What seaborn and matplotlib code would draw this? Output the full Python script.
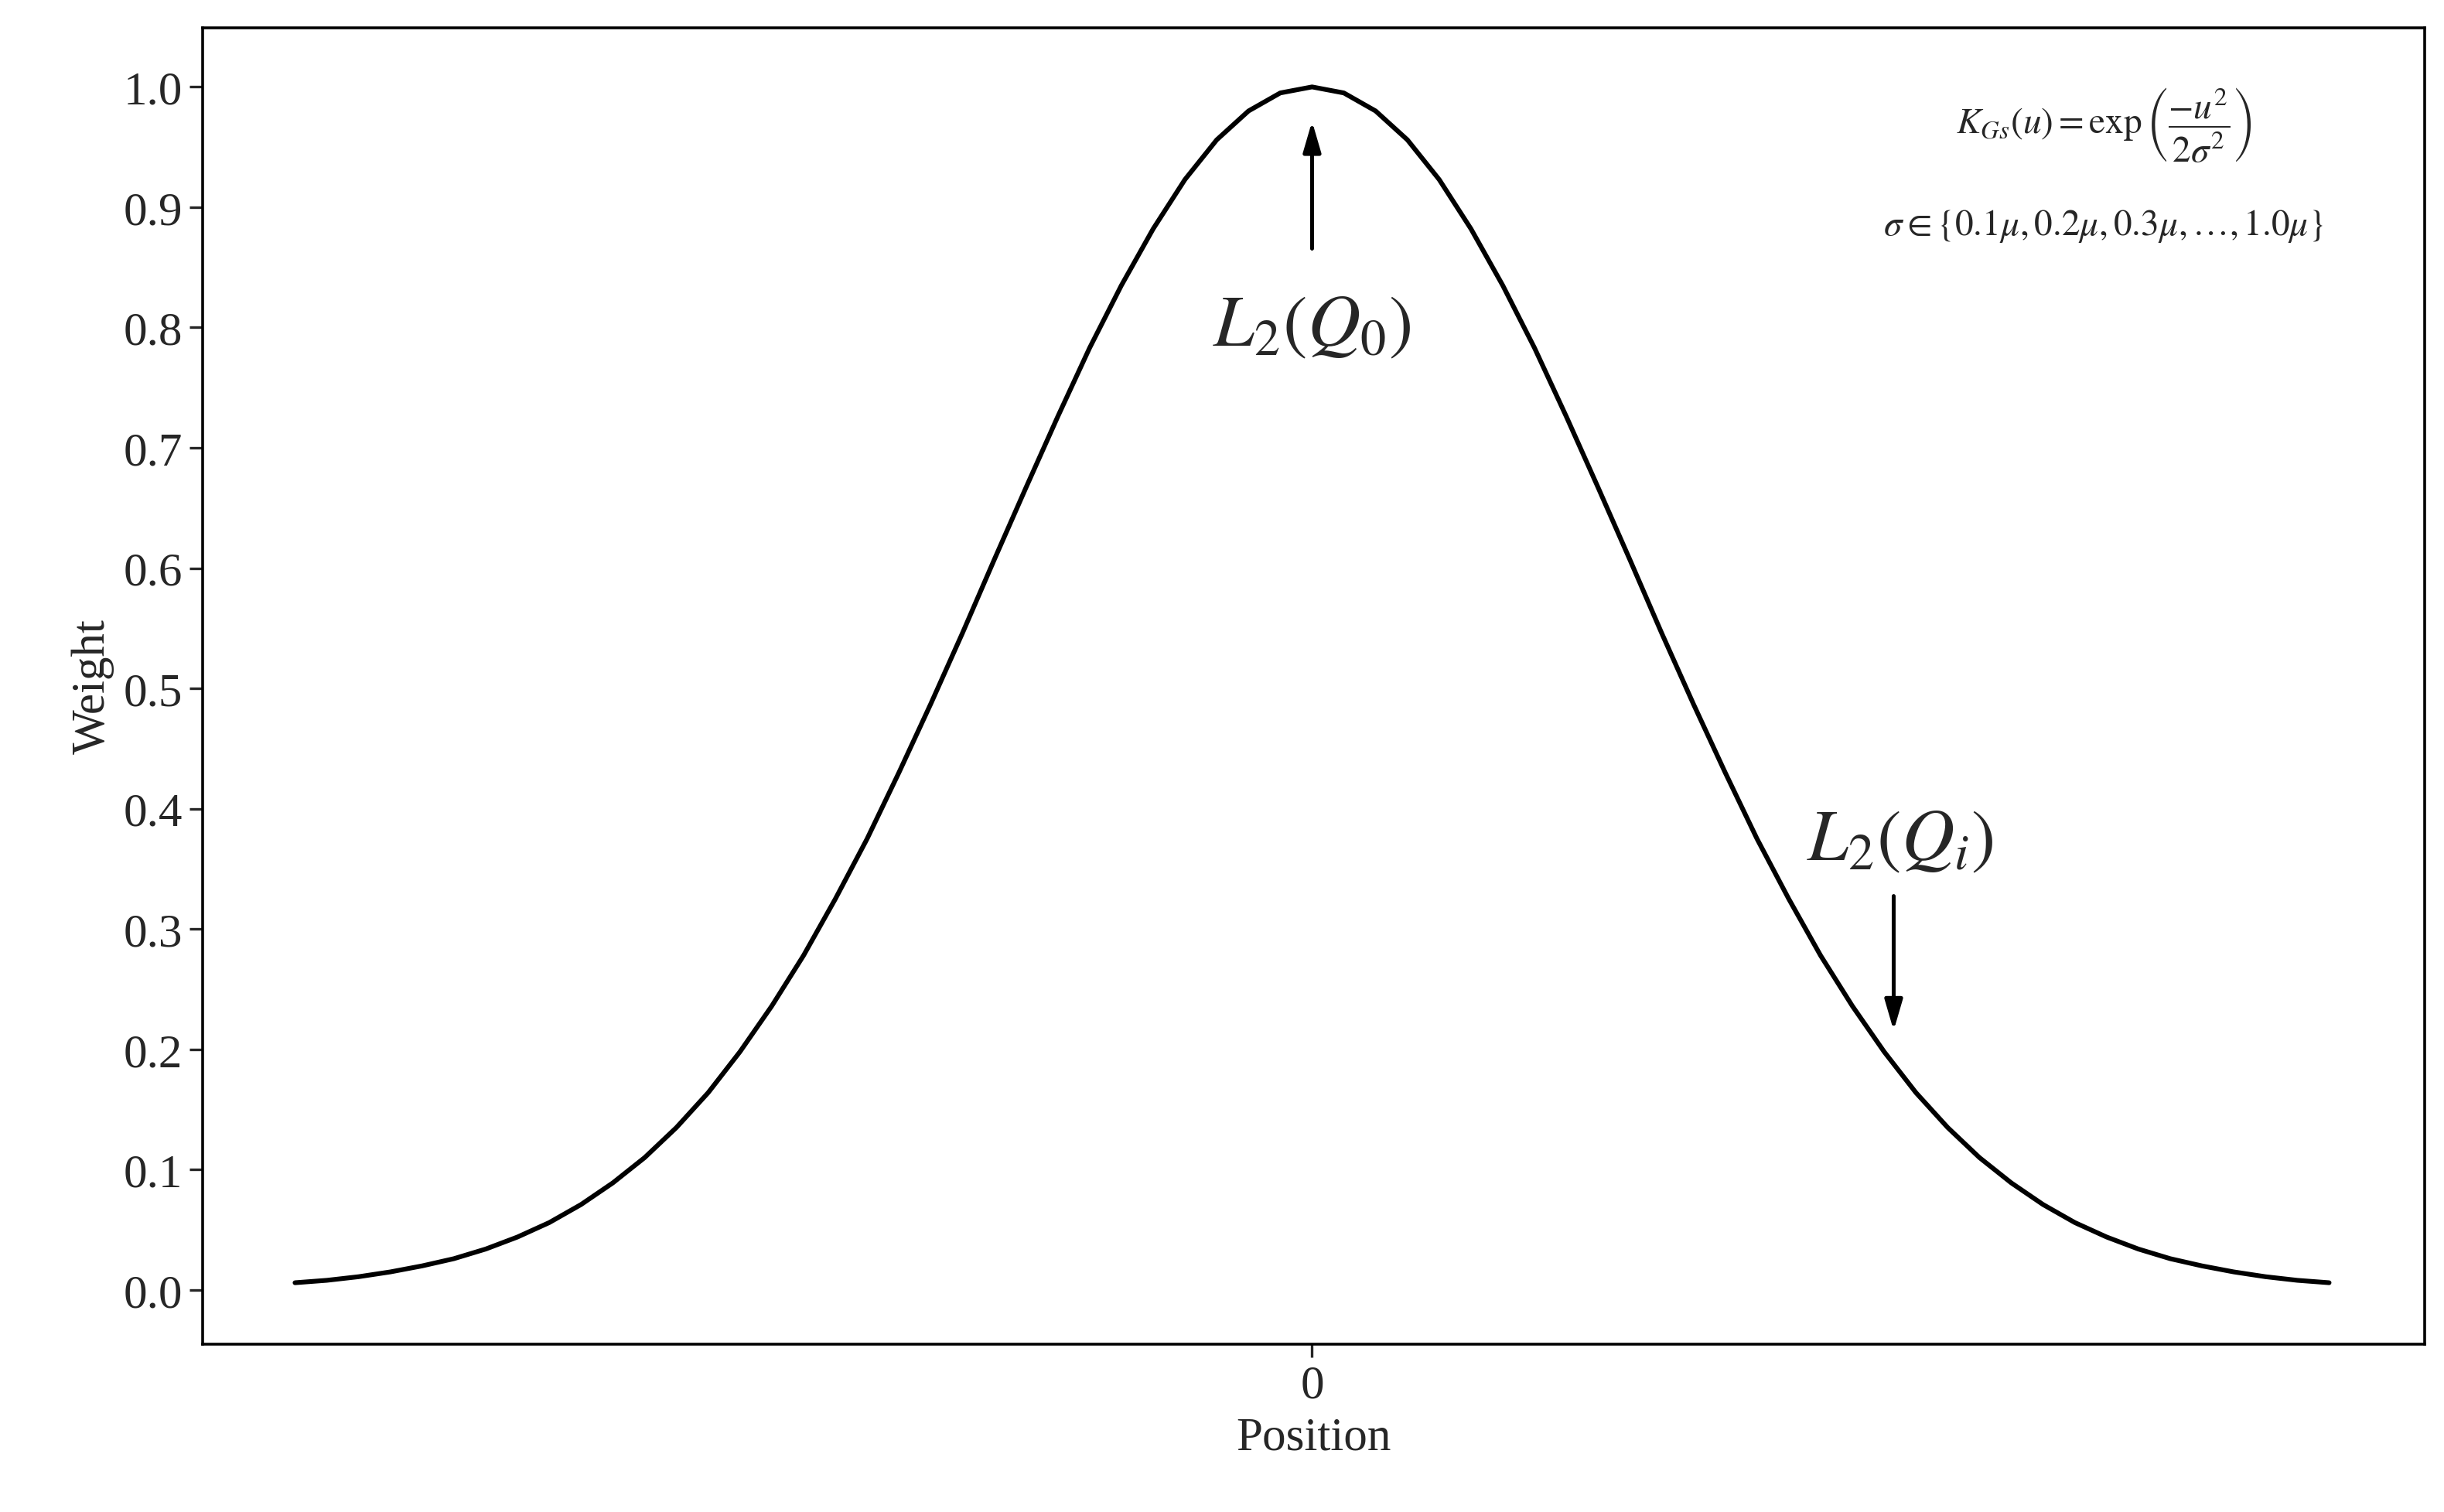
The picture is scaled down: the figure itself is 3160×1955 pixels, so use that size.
import numpy as np
import pandas as pd
import seaborn as sns
import matplotlib
matplotlib.use('Agg')
import matplotlib.pyplot as plt

# curve values (position in units of sigma, symmetric)
half_pos = [0.0, 0.1, 0.2, 0.3, 0.4, 0.5, 0.6, 0.7, 0.8, 0.9, 1.0, 1.1, 1.2, 1.3, 1.4, 1.5, 1.6,
            1.7, 1.8, 1.9, 2.0, 2.1, 2.2, 2.3, 2.4, 2.5, 2.6, 2.7, 2.8, 2.9, 3.0, 3.1, 3.2]
half_weight = [1.000, 0.995, 0.980, 0.956, 0.923, 0.882, 0.835, 0.783, 0.726, 0.667, 0.607,
               0.546, 0.487, 0.430, 0.375, 0.325, 0.278, 0.236, 0.198, 0.164, 0.135, 0.110,
               0.089, 0.071, 0.056, 0.044, 0.034, 0.026, 0.020, 0.015, 0.011, 0.008, 0.006]

position = [-p for p in half_pos[:0:-1]] + half_pos
weight = half_weight[:0:-1] + half_weight
df = pd.DataFrame({'Position': position, 'Weight': weight})

sns.set_style('ticks')
plt.rcParams['font.family'] = ['Liberation Serif', 'DejaVu Serif']
plt.rcParams['mathtext.fontset'] = 'stix'

fig = plt.figure(figsize=(15.8, 9.78), dpi=200)
ax = fig.add_axes([0.083, 0.111, 0.909, 0.870])
sns.lineplot(data=df, x='Position', y='Weight', color='black', linewidth=2.2, ax=ax)

ax.set_xlim(-3.49, 3.50)
ax.set_ylim(-0.045, 1.049)
ax.set_xticks([0])
ax.set_xticklabels(['0'])
ax.set_yticks(np.arange(0, 1.01, 0.1))
ax.set_yticklabels([f'{v:.1f}' for v in np.arange(0, 1.01, 0.1)])
ax.tick_params(labelsize=22, length=6, width=1.2)
ax.set_xlabel('Position', fontsize=22)
ax.set_ylabel('Weight', fontsize=22)
for s in ax.spines.values():
    s.set_visible(True)
    s.set_linewidth(1.3)
    s.set_color('black')

arrow = dict(arrowstyle='-|>,head_width=0.35,head_length=1.2', color='black', lw=1.8)
ax.annotate('', xy=(0, 0.975), xytext=(0, 0.862), arrowprops=arrow)
ax.text(0, 0.80, r'$L_2(Q_0)$', fontsize=34, ha='center', va='center')
ax.annotate('', xy=(1.83, 0.212), xytext=(1.83, 0.331), arrowprops=arrow)
ax.text(1.85, 0.372, r'$L_2(Q_i)$', fontsize=34, ha='center', va='center')

ax.text(2.49, 0.969, r'$K_{Gs}(u)=\exp\left(\dfrac{-u^2}{2\sigma^2}\right)$',
        fontsize=17, ha='center', va='center')
ax.text(2.49, 0.885, r'$\sigma\in\{0.1\mu,0.2\mu,0.3\mu,\ldots,1.0\mu\}$',
        fontsize=17, ha='center', va='center')

fig.savefig('out.png', dpi=200)
